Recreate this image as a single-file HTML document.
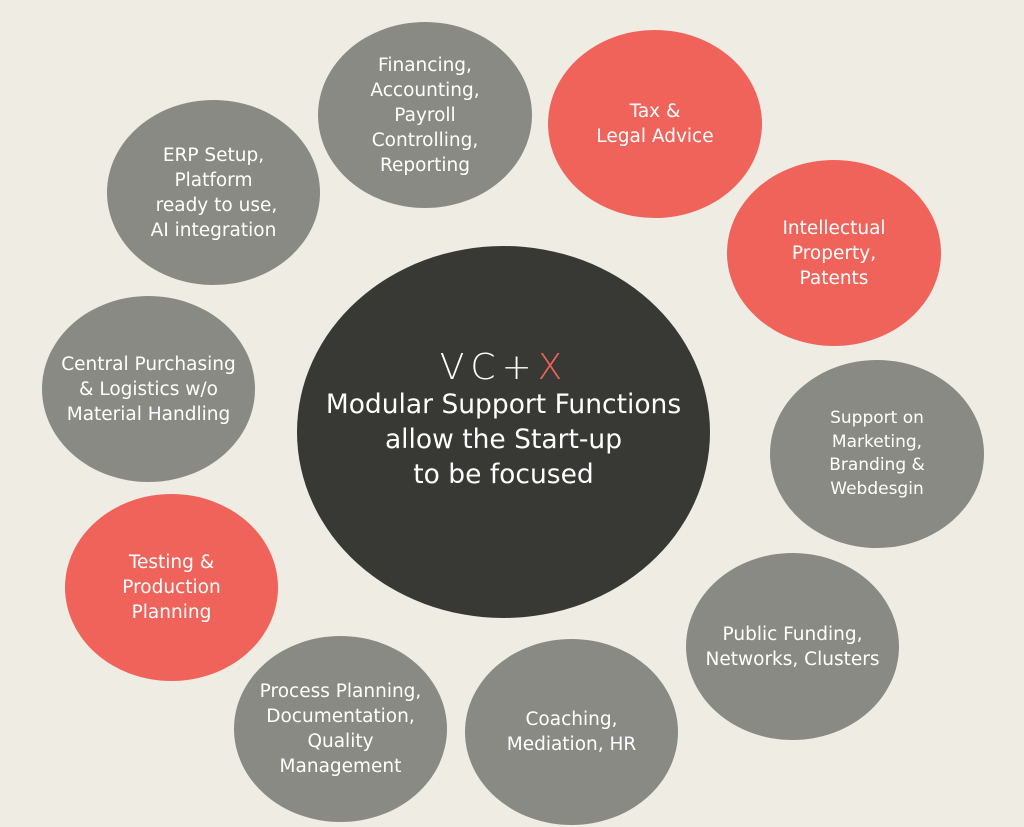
<!DOCTYPE html>
<html><head><meta charset="utf-8"><style>
html,body{margin:0;padding:0}
body{width:1024px;height:827px;background:#efece4;position:relative;overflow:hidden;font-family:"DejaVu Sans","Liberation Sans",sans-serif;}
.e{position:absolute;border-radius:50%;display:flex;align-items:center;justify-content:center;text-align:center;color:#fff;font-size:18.5px;line-height:25px;}
.g{background:#8a8a84}.r{background:#ef635b}
.c{background:#383835;font-size:26.5px;line-height:35px;flex-direction:column}
</style></head><body>
<div class="e g" style="left:318px;top:22px;width:214px;height:186px">Financing,<br>Accounting,<br>Payroll<br>Controlling,<br>Reporting</div>
<div class="e r" style="left:548px;top:30px;width:214px;height:188px">Tax &amp;<br>Legal Advice</div>
<div class="e g" style="left:107px;top:100px;width:213px;height:185px">ERP Setup,<br>Platform<br>&nbsp;ready to use,<br>AI integration</div>
<div class="e r" style="left:727px;top:160px;width:214px;height:186px">Intellectual<br>Property,<br>Patents</div>
<div class="e g" style="left:42px;top:296px;width:213px;height:186px">Central Purchasing<br>&amp; Logistics w/o<br>Material Handling</div>
<div class="e g" style="left:770px;top:360px;width:214px;height:188px;font-size:17px;line-height:23.5px">Support on<br>Marketing,<br>Branding &amp;<br>Webdesgin</div>
<div class="e r" style="left:65px;top:494px;width:213px;height:187px">Testing &amp;<br>Production<br>Planning</div>
<div class="e g" style="left:686px;top:553px;width:213px;height:187px">Public Funding,<br>Networks, Clusters</div>
<div class="e g" style="left:234px;top:636px;width:213px;height:186px">Process Planning,<br>Documentation,<br>Quality<br>Management</div>
<div class="e g" style="left:465px;top:639px;width:213px;height:186px">Coaching,<br>Mediation, HR</div>
<div class="e c" style="left:297px;top:246px;width:413px;height:346px;padding-bottom:26px">
<svg width="130" height="40" viewBox="0 0 130 40" style="margin-bottom:0px"><text x="65" y="32" text-anchor="middle" font-family="DejaVu Sans, sans-serif" font-size="36" letter-spacing="6" fill="#fff" style="font-weight:300">VC+<tspan fill="#ef635b">X</tspan></text></svg>
<div>Modular Support Functions<br>allow the Start-up<br>to be focused</div>
</div>
</body></html>
